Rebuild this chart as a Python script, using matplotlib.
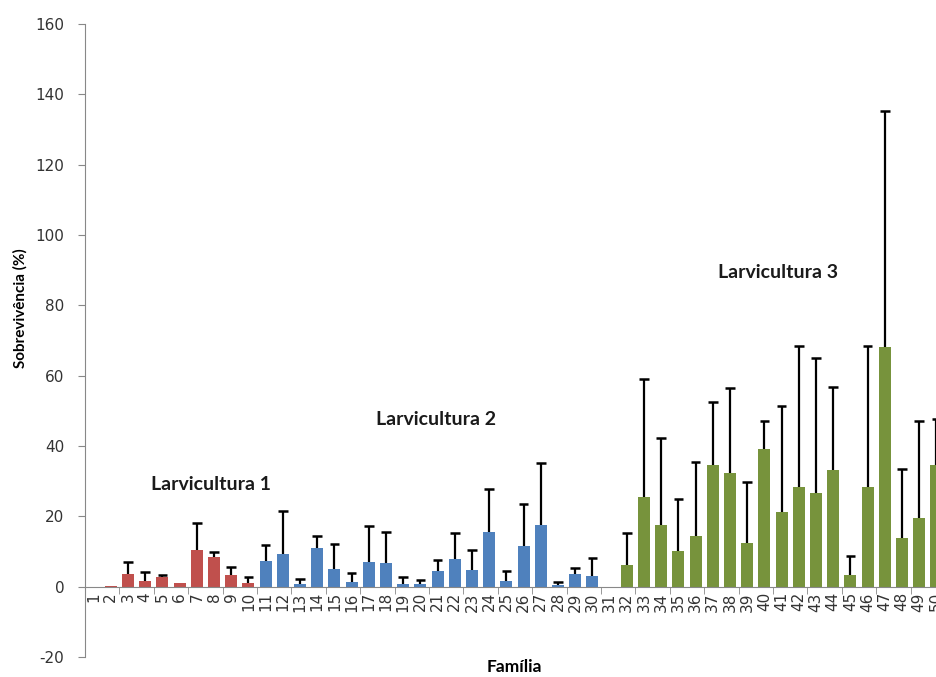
import numpy as np
import matplotlib
matplotlib.use("Agg")
import matplotlib.pyplot as plt
from matplotlib.ticker import FixedLocator, NullFormatter

plt.rcParams["axes.unicode_minus"] = False

# familias 1..50
familia = list(range(1, 51))
# media de sobrevivencia (%)
media = [0.0, 0.2, 3.6, 1.7, 2.8, 1.0, 10.4, 8.3, 3.4, 1.1,
         7.4, 9.3, 0.7, 11.0, 4.9, 1.4, 7.1, 6.6, 0.9, 0.9,
         4.5, 8.0, 4.6, 15.5, 1.7, 11.6, 17.4, 0.4, 3.6, 3.0,
         0.0, 6.3, 25.6, 17.5, 10.2, 14.5, 34.7, 32.2, 12.4, 39.2,
         21.3, 28.4, 26.7, 33.2, 3.4, 28.4, 68.1, 13.7, 19.4, 34.7]
# desvio padrao (so a parte de cima aparece)
desvio = [0.0, 0.0, 3.3, 2.6, 0.6, 0.0, 7.7, 1.7, 2.3, 1.6,
          4.4, 12.3, 1.4, 3.3, 7.2, 2.6, 10.2, 9.0, 1.8, 0.9,
          3.0, 7.4, 5.8, 12.3, 2.8, 11.9, 17.8, 0.9, 1.7, 5.1,
          0.0, 9.1, 33.5, 24.8, 14.7, 21.0, 17.7, 24.2, 17.4, 7.8,
          30.2, 40.1, 38.4, 23.7, 5.2, 40.1, 67.1, 19.9, 27.6, 13.0]
# larvicultura de cada familia
grupo = [1] * 10 + [2] * 20 + [3] * 20
cores = {1: "#C0504D", 2: "#4F81BD", 3: "#77933C"}
rotulos = {1: ("Larvicultura 1", 7.8, 29.0),
           2: ("Larvicultura 2", 20.9, 47.4),
           3: ("Larvicultura 3", 40.8, 89.2)}

fig = plt.figure(figsize=(9.36, 6.77), dpi=100)
ax = fig.add_axes([85 / 936, 20 / 677, 860 / 936, 633 / 677])

x = np.array(familia)
m = np.array(media)
d = np.array(desvio)
ax.bar(x, m, width=0.7, color=[cores[g] for g in grupo], zorder=2)

# barra de erro so para cima, sem traco na base
tem = d > 0
ax.vlines(x[tem], m[tem], m[tem] + d[tem], color="black", lw=1.6, zorder=3)
ax.hlines(m[tem] + d[tem], x[tem] - 0.28, x[tem] + 0.28, color="black",
          lw=1.8, zorder=3)

for g, (txt, tx, ty) in rotulos.items():
    ax.text(tx, ty, txt, ha="center", va="center", fontsize=14,
            fontweight="bold", family="Lato", color="#1a1a1a")

ax.set_xlim(0.5, 50.5)
ax.set_ylim(-20, 160)
ax.set_yticks(range(-20, 161, 20))

axcol = "#888888"
for s in ["top", "right"]:
    ax.spines[s].set_visible(False)
ax.spines["bottom"].set_position(("data", 0))
ax.spines["bottom"].set_color(axcol)
ax.spines["left"].set_color(axcol)

ax.set_xticks(familia)
ax.set_xticklabels([str(f) for f in familia], rotation=90, fontsize=11,
                   color="#333333")
ax.tick_params(axis="x", which="major", length=0, pad=4)
ax.xaxis.set_minor_locator(FixedLocator(np.arange(0.5, 51, 2)))
ax.xaxis.set_minor_formatter(NullFormatter())
ax.tick_params(axis="x", which="minor", length=5, color=axcol, direction="out")
ax.tick_params(axis="y", length=5, color=axcol, labelsize=11,
               labelcolor="#333333", pad=10)

fig.text(20 / 936, 1 - 308 / 677, "Sobrevivência (%)", rotation=90,
         ha="center", va="center", fontsize=11, fontweight="bold",
         family="Lato")
fig.text(514 / 936, 1 - 667 / 677, "Família", ha="center", va="center",
         fontsize=12.5, fontweight="bold", family="Lato")

fig.savefig("out.png", dpi=100)
